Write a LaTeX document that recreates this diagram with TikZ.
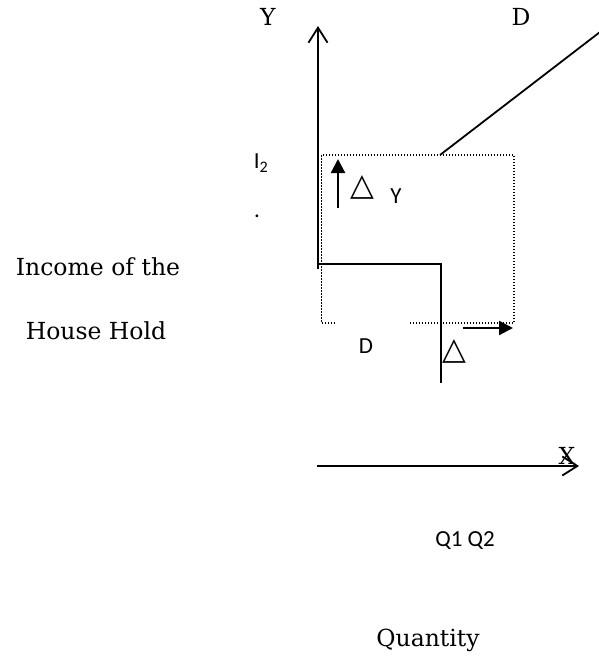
\documentclass[tikz,border=0pt]{standalone}
\usepackage{fontspec}
\setmainfont{DejaVu Serif}
\newfontfamily\calib{Carlito}
\newfontfamily\djs{DejaVu Sans}
\usetikzlibrary{arrows.meta}
\begin{document}
\begin{tikzpicture}[x=1pt,y=-1pt,
  serif/.style={font=\fontsize{23.5}{28}\selectfont, inner sep=0pt},
  sans/.style={font=\calib\fontsize{23}{27}\selectfont, inner sep=0pt},
  axis/.style={line width=2pt, -{Straight Barb[length=15pt,width=19pt,line width=1.8pt]}},
  thin/.style={line width=1.8pt},
  dotbox/.style={line width=1.4pt, dash pattern=on 1.4pt off 1.6pt},
  fillarrow/.style={line width=2.2pt, -{Triangle[length=14pt,width=14pt]}},
  tri/.style={font=\djs\fontsize{31}{35}\selectfont, inner sep=0pt}]
\useasboundingbox (0,0) rectangle (599,659);
% labels
\node[serif] (ylab) at (268,17) {Y};
\node[serif] (dlab) at (521,17) {D};
\node[serif] (inc) at (98,267) {Income of the};
\node[serif] (hh) at (96,331) {House Hold};
\node[serif] (xlab) at (567,456) {X};
\node[serif] (qty) at (428,640) {Quantity};
\node[sans] (i2) at (261,163) {I\textsubscript{2}};
\node[sans] (dot) at (257,216) {.};
\node[sans] (ysans) at (396,196) {Y};
\node[sans] (dsans) at (366,346) {D};
\node[sans] (q12) at (465,541) {Q1 Q2};
\node[tri] (t1) at (362,187) {△};
\node[tri] (t2) at (454,351) {△};
% coordinates
\coordinate (o) at (318,269);
\coordinate (ytop) at (318,26);
\coordinate (corner) at (441,264);
\coordinate (hstart) at (318,264);
\coordinate (vend) at (441,383);
\coordinate (dlo) at (440,155);
\coordinate (dhi) at (600,32);
\coordinate (xs) at (317,466);
\coordinate (xe) at (579,466);
% axes
\draw[axis] (o) -- (ytop);
\draw[axis] (xs) -- (xe);
% demand shift line
\draw[thin] (dlo) -- (dhi);
% dotted box
\draw[dotbox] (335,323) -- (321.5,323) -- (321.5,155) -- (514,155) -- (514,323) -- (410,323);
% L shaped line
\draw[thin] (hstart) -- (corner) -- (vend);
% small arrows
\draw[fillarrow] (338,208) -- (338,159);
\draw[fillarrow] (463,328) -- (513,328);
\end{tikzpicture}
\end{document}
